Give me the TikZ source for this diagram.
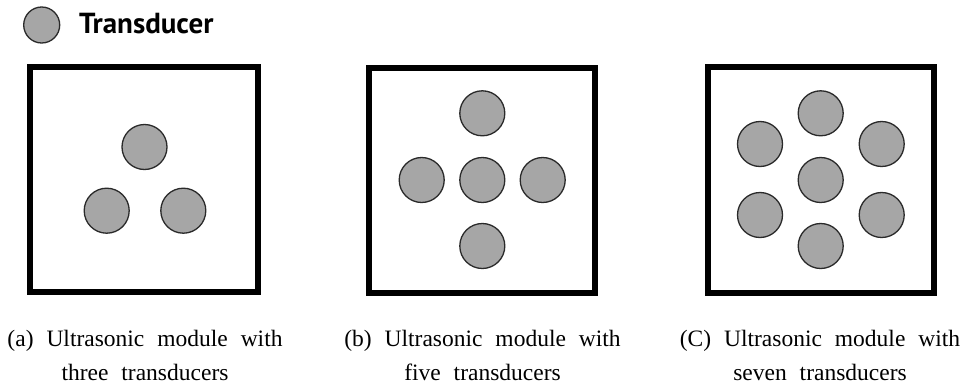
\documentclass[tikz,border=0pt]{standalone}
\usepackage{fontspec}
\setmainfont{Liberation Serif}
\newfontfamily\legendfont{PT Sans}
\newcommand{\wsp}{\hspace{0.55em}}
\tikzset{
  transducer/.style={circle, minimum size=45pt, inner sep=0pt, fill=tgray, draw=tedge, line width=1.3pt},
  legendcirc/.style={circle, minimum size=36pt, inner sep=0pt, fill=tgray, draw=tedge, line width=1.3pt},
  modulebox/.style={draw=black, line width=6pt, fill=white},
  captext/.style={anchor=base, inner sep=0pt, font=\fontsize{23.5}{28}\selectfont},
}
\definecolor{tgray}{HTML}{A6A6A6}
\definecolor{tedge}{HTML}{2A2A2A}
\begin{document}
\begin{tikzpicture}[x=1pt,y=-1pt]
\useasboundingbox (0,0) rectangle (962,388);
% legend
\node[legendcirc] (lc) at (41.7,25) {};
\node[anchor=base west, inner sep=0pt, font=\legendfont\bfseries\fontsize{29}{32}\selectfont] (lt) at (79,33.3) {Transducer};
% boxes
\draw[modulebox] (30,67) rectangle (258,292);
\draw[modulebox] (369,67.5) rectangle (595,293);
\draw[modulebox] (708,66.5) rectangle (934,293);
% (a) three
\node[transducer] (a1) at (144.5,147) {};
\node[transducer] (a2) at (106.7,210.7) {};
\node[transducer] (a3) at (183.3,210.7) {};
% (b) five
\node[transducer] (b1) at (482.3,113.3) {};
\node[transducer] (b2) at (421.7,180) {};
\node[transducer] (b3) at (482.3,180) {};
\node[transducer] (b4) at (542.7,180) {};
\node[transducer] (b5) at (482.3,246) {};
% (c) seven
\node[transducer] (c1) at (820.7,113.3) {};
\node[transducer] (c2) at (760,144) {};
\node[transducer] (c3) at (881.7,144) {};
\node[transducer] (c4) at (820.7,180) {};
\node[transducer] (c5) at (760,215) {};
\node[transducer] (c6) at (881.7,215) {};
\node[transducer] (c7) at (820.7,246) {};
% captions
\node[captext] (capa1) at (145,346.7) {(a)\wsp Ultrasonic\wsp module\wsp with};
\node[captext] (capa2) at (145,380) {three\wsp transducers};
\node[captext] (capb1) at (482.5,346.7) {(b)\wsp Ultrasonic\wsp module\wsp with};
\node[captext] (capb2) at (482.5,380) {five\wsp transducers};
\node[captext] (capc1) at (820,346.7) {(C)\wsp Ultrasonic\wsp module\wsp with};
\node[captext] (capc2) at (820,380) {seven\wsp transducers};
\end{tikzpicture}
\end{document}
